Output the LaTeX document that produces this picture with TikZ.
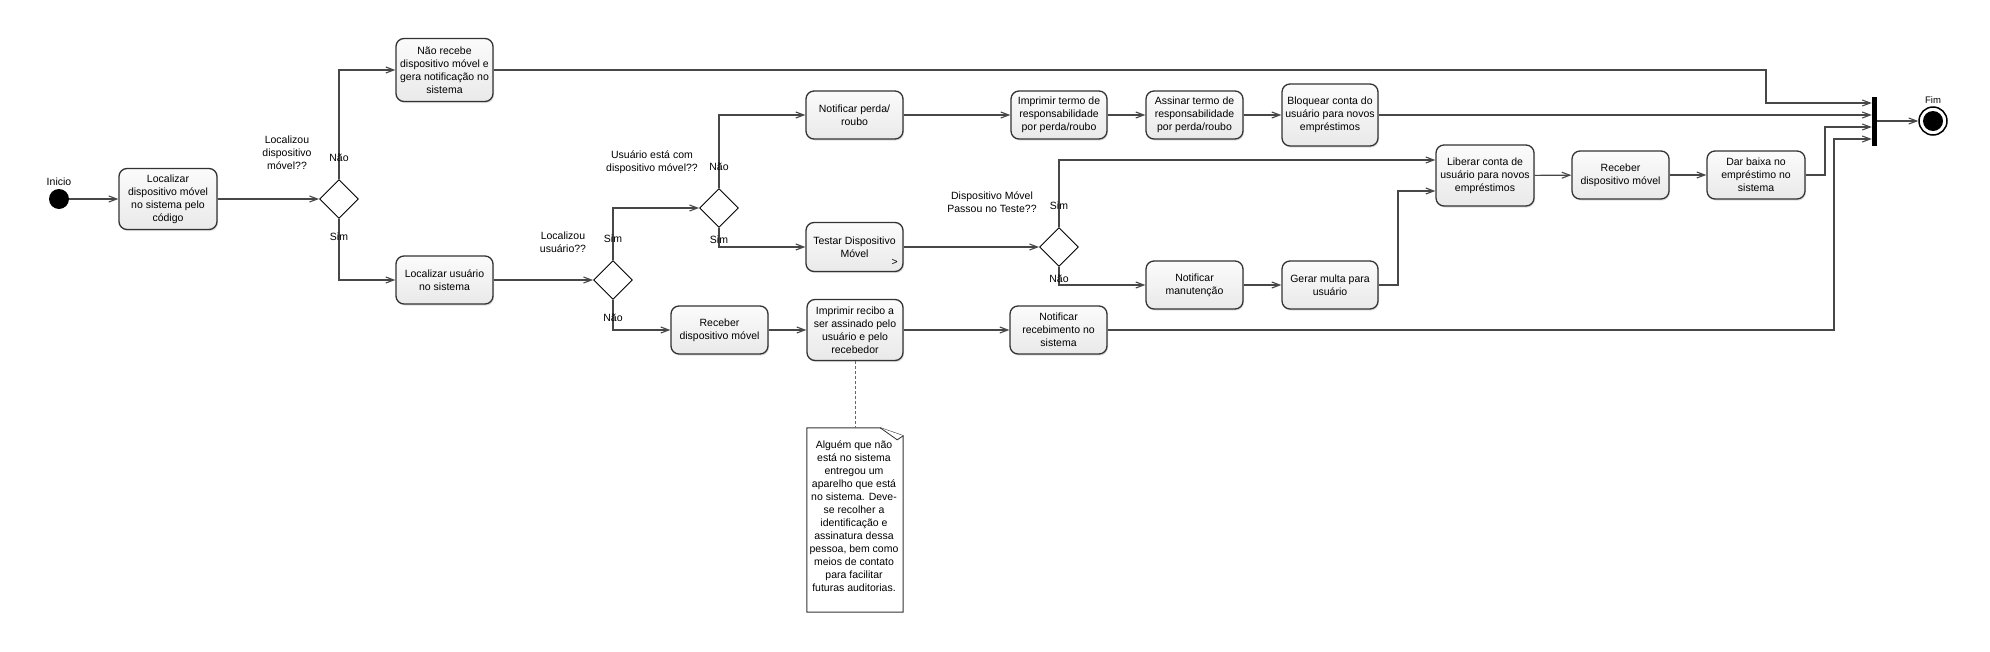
\documentclass[tikz,border=0pt]{standalone}
\usepackage{fontspec}
\setmainfont{Liberation Sans}
\usetikzlibrary{arrows.meta,shapes.geometric,shadows,calc}
\begin{document}
\begin{tikzpicture}[x=1pt,y=-1pt,
  act/.style={draw=black!80, line width=1.3pt, rounded corners=8pt,
    top color=gray!3, bottom color=gray!17, align=center,
    font=\fontsize{10.5}{13}\selectfont, inner sep=0pt,
    minimum width=97pt, minimum height=48pt,
    drop shadow={shadow xshift=1pt,shadow yshift=-1.5pt,opacity=0.25}},
  dec/.style={draw=black, line width=0.9pt, diamond, minimum width=39pt,
    minimum height=39pt, inner sep=0pt, fill=white},
  flow/.style={draw=black!72, line width=1.1pt,
    -{Straight Barb[length=8pt,width=6pt]}},
  lbl/.style={font=\fontsize{10.5}{13}\selectfont, align=center, inner sep=0pt},
  notebox/.style={minimum width=96pt, minimum height=184pt, inner sep=0pt},
]
\fill[white] (0,0) rectangle (1990,651);
\useasboundingbox (0,0) rectangle (1990,651);

% start / end
\node[circle, fill=black, minimum size=20pt, inner sep=0pt] (st) at (59,199) {};
\node[lbl, anchor=south] (stl) at (59,186) {Inicio};
\node[rectangle, fill=black, minimum width=5pt, minimum height=49pt, inner sep=0pt] (bar) at (1874.5,121.5) {};
\node[circle, draw=black, line width=1.5pt, fill=white, minimum size=28pt, inner sep=0pt] (en) at (1933,121) {};
\fill[black] (en) circle (10pt);
\node[lbl, font=\fontsize{9.5}{11}\selectfont, anchor=south] (enl) at (1933,104) {Fim};

% activities
\node[act, minimum width=98pt, minimum height=61pt] (b1) at (168,199) {Localizar\\dispositivo móvel\\no sistema pelo\\código};
\node[act, minimum height=63pt] (b2) at (444.5,70) {Não recebe\\dispositivo móvel e\\gera notificação no\\sistema};
\node[act] (b3) at (444.5,280) {Localizar usuário\\no sistema};
\node[act] (b4) at (854.5,115) {Notificar perda/\\roubo};
\node[act, minimum height=49pt] (b5) at (854.5,247) {Testar Dispositivo\\Móvel};
\node[lbl, font=\fontsize{10.5}{11}\selectfont] (b5g) at ($(b5.south east)+(-9,-10)$) {>};
\node[act] (b6) at (719.5,330) {Receber\\dispositivo móvel};
\node[act, minimum width=96pt, minimum height=61pt] (b7) at (855,330) {Imprimir recibo a\\ser assinado pelo\\usuário e pelo\\recebedor};
\node[act] (b8) at (1058.5,330) {Notificar\\recebimento no\\sistema};
\node[act, minimum width=96pt] (b9) at (1059,115) {Imprimir termo de\\responsabilidade\\por perda/roubo};
\node[act] (b10) at (1194.5,115) {Assinar termo de\\responsabilidade\\por perda/roubo};
\node[act, minimum width=96pt, minimum height=62pt] (b11) at (1330,115) {Bloquear conta do\\usuário para novos\\empréstimos};
\node[act] (b12) at (1194.5,285) {Notificar\\manutenção};
\node[act, minimum width=96pt] (b13) at (1330,285) {Gerar multa para\\usuário};
\node[act, minimum width=98pt, minimum height=61pt] (b14) at (1485,175.5) {Liberar conta de\\usuário para novos\\empréstimos};
\node[act] (b15) at (1620.5,175) {Receber\\dispositivo móvel};
\node[act, minimum width=98pt] (b16) at (1756,175) {Dar baixa no\\empréstimo no\\sistema};

% decisions
\node[dec] (d1) at (339,199) {};
\node[dec] (d2) at (613,280) {};
\node[dec] (d3) at (719,208) {};
\node[dec] (d4) at (1059,247) {};

% note
\node[notebox] (nt) at (855,520) {};
\draw[black!80, line width=1pt, fill=white]
  (nt.north west) -- ($(nt.north east)+(-23,0)$) -- ($(nt.north east)+(0,8)$)
  -- (nt.south east) -- (nt.south west) -- cycle;
\draw[black!80, line width=0.8pt, fill=white]
  ($(nt.north east)+(-23,0)$) -- ($(nt.north east)+(-6,12)$) -- ($(nt.north east)+(0,8)$);
\node[lbl] (ntx) at (854,516) {Alguém que não\\está no sistema\\entregou um\\aparelho que está\\no sistema. Deve-\\se recolher a\\identificação e\\assinatura dessa\\pessoa, bem como\\meios de contato\\para facilitar\\futuras auditorias.};
\draw[black!60, line width=0.9pt, dash pattern=on 3pt off 2pt] (b7.south) -- (nt.north);

% decision labels
\node[lbl] (q1) at (287,153) {Localizou\\dispositivo\\móvel??};
\node[lbl] (q2) at (563,242) {Localizou\\usuário??};
\node[lbl] (q3) at (652,162) {Usuário está com\\dispositivo móvel??};
\node[lbl] (q4) at (992,202) {Dispositivo Móvel\\Passou no Teste??};

% bend points
\coordinate (k1) at (1766,103);
\coordinate (k2) at (1825,127);
\coordinate (k3) at (1834,139);
\coordinate (k4) at (1398,191);
\coordinate (k5) at (1059,160);

% flows
\draw[flow] (st) -- (b1);
\draw[flow] (b1) -- (d1);
\draw[flow] (d1.north) |- (b2.west);
\draw[flow] (d1.south) |- (b3.west);
\draw[flow] (b3) -- (d2);
\draw[flow] (d2.north) |- (d3.west);
\draw[flow] (d2.south) |- (b6.west);
\draw[flow] (d3.north) |- (b4.west);
\draw[flow] (d3.south) |- (b5.west);
\draw[flow] (b4) -- (b9);
\draw[flow] (b9) -- (b10);
\draw[flow] (b10) -- (b11);
\draw[flow] (b11.east) -- (bar.west |- b11.east);
\draw[flow] (b2.east) -| (k1) -- (bar.west |- k1);
\draw[flow] (b5) -- (d4);
\draw[flow] (d4.north) -- (k5) -- (k5 -| b14.west);
\draw[flow] (d4.south) |- (b12.west);
\draw[flow] (b12) -- (b13);
\draw[flow] (b13.east) -| (k4) -- (k4 -| b14.west);
\draw[flow] (b14) -- (b15);
\draw[flow] (b15) -- (b16);
\draw[flow] (b16.east) -| (k2) -- (bar.west |- k2);
\draw[flow] (b6) -- (b7);
\draw[flow] (b7) -- (b8);
\draw[flow] (b8.east) -| (k3) -- (bar.west |- k3);
\draw[flow] (bar.east |- en) -- (en);

% branch labels
\node[lbl] (l1) at (339,158) {Não};
\node[lbl] (l2) at (339,237) {Sim};
\node[lbl] (l3) at (613,239) {Sim};
\node[lbl] (l4) at (613,318) {Não};
\node[lbl] (l5) at (719,167) {Não};
\node[lbl] (l6) at (719,240) {Sim};
\node[lbl] (l7) at (1059,206) {Sim};
\node[lbl] (l8) at (1059,279) {Não};
\end{tikzpicture}
\end{document}
